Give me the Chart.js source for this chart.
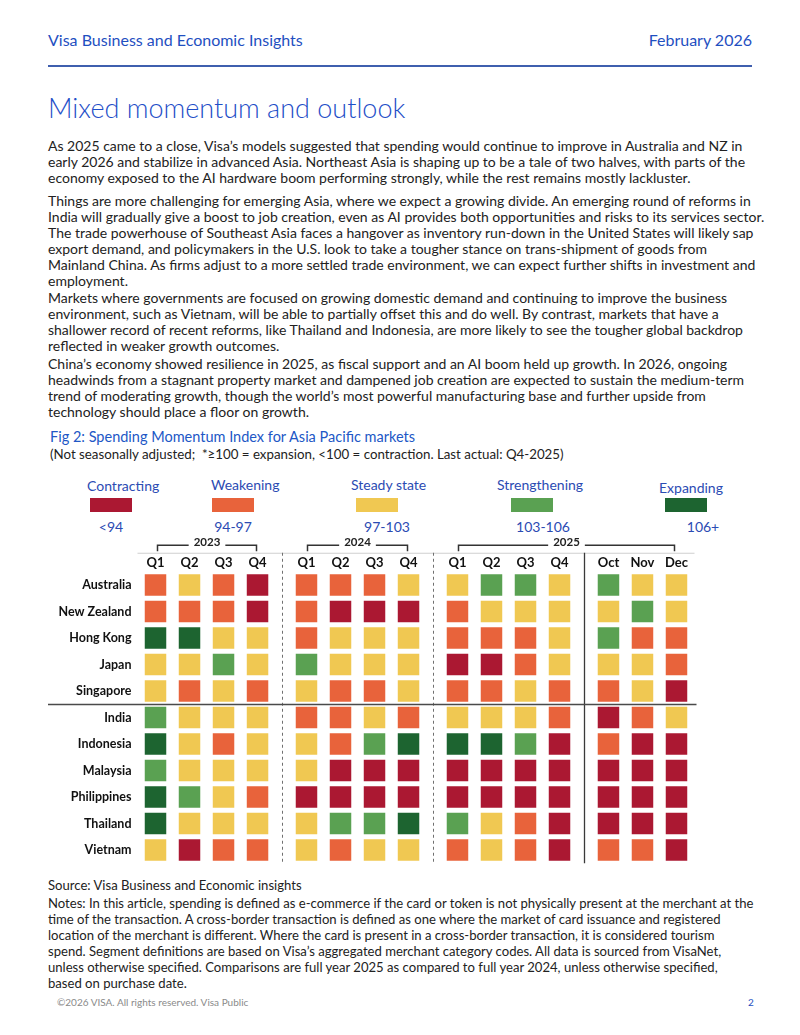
<!DOCTYPE html>
<html><head><meta charset="utf-8">
<script src="https://cdn.jsdelivr.net/npm/chart.js@4"></script>
<style>
body{margin:0;background:#fff;}
#page{position:relative;width:800px;height:1035px;overflow:hidden;font-family:Lato,"Open Sans",sans-serif;color:#222;}
.a{position:absolute;white-space:nowrap;}
.hdr{font-size:16px;line-height:20px;color:#1f4fc1;top:30px;}
.title{left:48px;top:91px;font-size:27px;line-height:34px;color:#1f4fc8;font-weight:300;}
.p{left:48px;line-height:16px;color:#222;}
.legend-lbl{font-size:14px;line-height:18px;color:#2b4bb3;}
.legend-rng{font-size:14px;line-height:18px;color:#2b4bb3;transform:translateX(-50%);}
.sw{position:absolute;width:42px;height:14px;top:498px;}
#chartBox{position:absolute;left:0;top:520px;width:800px;height:360px;}
</style></head>
<body><div id="page">
<div class="a hdr" style="left:48px">Visa Business and Economic Insights</div>
<div class="a hdr" style="right:48px">February 2026</div>
<div class="a" style="left:48px;top:65px;width:704px;height:2px;background:#3f5fae"></div>
<div class="a title">Mixed momentum and outlook</div>

<div id="body"></div>

<div class="a" style="left:50px;top:428px;font-size:14.5px;line-height:18px;color:#2157c6">Fig 2: Spending Momentum Index for Asia Pacific markets</div>
<div class="a" style="left:50px;top:446px;font-size:13.3px;line-height:16px;color:#222">(Not seasonally adjusted;&nbsp; *≥100 = expansion, &lt;100 = contraction. Last actual: Q4-2025)</div>

<div id="legend"></div>
<div id="chartBox"><canvas id="c"></canvas></div>

<div class="a" style="left:57px;top:995px;font-size:10px;line-height:14px;color:#8a8a8a">©2026 VISA. All rights reserved. Visa Public</div>
<div class="a" style="left:748px;top:995px;font-size:10px;line-height:14px;color:#1f4fc1">2</div>
</div>
<script>
// ---------- data ----------
const MARKETS = ['Australia','New Zealand','Hong Kong','Japan','Singapore','India','Indonesia','Malaysia','Philippines','Thailand','Vietnam'];
const PERIODS = ['Q1','Q2','Q3','Q4','Q1','Q2','Q3','Q4','Q1','Q2','Q3','Q4','Oct','Nov','Dec'];
const PERIOD_GROUP = [0,0,0,0,1,1,1,1,2,2,2,2,3,3,3];
const YEARS = ['2023','2024','2025'];
const YEAR_FIRST = [0,4,8];
const YEAR_LAST = [3,7,14];
const LEVEL_NAMES = ['Contracting','Weakening','Steady state','Strengthening','Expanding'];
const LEVEL_RANGES = ['<94','94-97','97-103','103-106','106+'];
const LEVEL_COLORS = ['#AB1832','#E8633B','#F0C852','#5AA152','#1D6430'];
// 1 = contracting ... 5 = expanding
const AUSTRALIA   = [2,3,2,1, 2,2,2,3, 3,4,4,3, 4,3,3];
const NEW_ZEALAND = [2,2,2,1, 2,1,1,1, 2,3,3,3, 3,4,3];
const HONG_KONG   = [5,5,3,3, 2,3,3,3, 2,2,2,3, 4,2,2];
const JAPAN       = [3,3,4,3, 4,3,3,3, 1,1,2,3, 3,3,2];
const SINGAPORE   = [3,2,3,2, 3,2,2,3, 2,2,3,2, 2,3,1];
const INDIA       = [4,3,3,3, 2,2,3,2, 3,3,3,2, 1,2,3];
const INDONESIA   = [5,3,2,3, 3,2,4,5, 5,5,4,1, 2,1,1];
const MALAYSIA    = [4,3,3,3, 3,1,1,1, 1,1,1,1, 1,1,1];
const PHILIPPINES = [5,4,3,2, 1,1,1,1, 1,1,1,1, 1,1,1];
const THAILAND    = [5,3,3,3, 3,4,4,5, 4,3,2,1, 1,1,1];
const VIETNAM     = [3,1,2,2, 3,2,3,3, 2,3,2,1, 2,2,1];
const SERIES = [AUSTRALIA,NEW_ZEALAND,HONG_KONG,JAPAN,SINGAPORE,INDIA,INDONESIA,MALAYSIA,PHILIPPINES,THAILAND,VIETNAM];

// ---------- text ----------
const PARAS = [
 [138,14,["As 2025 came to a close, Visa’s models suggested that spending would continue to improve in Australia and NZ in",
  "early 2026 and stabilize in advanced Asia. Northeast Asia is shaping up to be a tale of two halves, with parts of the",
  "economy exposed to the AI hardware boom performing strongly, while the rest remains mostly lackluster."]],
 [193,14,["Things are more challenging for emerging Asia, where we expect a growing divide. An emerging round of reforms in",
  "India will gradually give a boost to job creation, even as AI provides both opportunities and risks to its services sector.",
  "The trade powerhouse of Southeast Asia faces a hangover as inventory run-down in the United States will likely sap",
  "export demand, and policymakers in the U.S. look to take a tougher stance on trans-shipment of goods from",
  "Mainland China. As firms adjust to a more settled trade environment, we can expect further shifts in investment and",
  "employment."]],
 [290,14,["Markets where governments are focused on growing domestic demand and continuing to improve the business",
  "environment, such as Vietnam, will be able to partially offset this and do well. By contrast, markets that have a",
  "shallower record of recent reforms, like Thailand and Indonesia, are more likely to see the tougher global backdrop",
  "reflected in weaker growth outcomes."]],
 [356,14,["China’s economy showed resilience in 2025, as fiscal support and an AI boom held up growth. In 2026, ongoing",
  "headwinds from a stagnant property market and dampened job creation are expected to sustain the medium-term",
  "trend of moderating growth, though the world’s most powerful manufacturing base and further upside from",
  "technology should place a floor on growth."]],
 [877,13.1,["Source: Visa Business and Economic insights"]],
 [895,13.1,["Notes: In this article, spending is defined as e-commerce if the card or token is not physically present at the merchant at the",
  "time of the transaction. A cross-border transaction is defined as one where the market of card issuance and registered",
  "location of the merchant is different. Where the card is present in a cross-border transaction, it is considered tourism",
  "spend. Segment definitions are based on Visa’s aggregated merchant category codes. All data is sourced from VisaNet,",
  "unless otherwise specified. Comparisons are full year 2025 as compared to full year 2024, unless otherwise specified,",
  "based on purchase date."]]
];
const bodyEl = document.getElementById('body');
PARAS.forEach(([top, fs, lines]) => {
  lines.forEach((t, i) => {
    const d = document.createElement('div');
    d.className = 'a p';
    d.style.top = (top + i * 16) + 'px';
    d.style.fontSize = fs + 'px';
    d.textContent = t;
    bodyEl.appendChild(d);
  });
});

// ---------- legend ----------
const LEG_LABEL_X = [87,211,351,497,659];
const LEG_LABEL_Y = [477,476,476,476,479];
const LEG_SW_X = [90,212,356,511,665];
const LEG_RNG_X = [111,233,387,543,703];
const legEl = document.getElementById('legend');
LEVEL_NAMES.forEach((n, i) => {
  const l = document.createElement('div');
  l.className = 'a legend-lbl'; l.style.left = LEG_LABEL_X[i] + 'px'; l.style.top = LEG_LABEL_Y[i] + 'px';
  l.textContent = n; legEl.appendChild(l);
  const s = document.createElement('div');
  s.className = 'sw'; s.style.left = LEG_SW_X[i] + 'px'; s.style.background = LEVEL_COLORS[i];
  legEl.appendChild(s);
  const r = document.createElement('div');
  r.className = 'a legend-rng'; r.style.left = LEG_RNG_X[i] + 'px'; r.style.top = '518px';
  r.textContent = LEVEL_RANGES[i]; legEl.appendChild(r);
});

// ---------- chart ----------
const GAP = 0.44;
const xPos = i => i + PERIOD_GROUP[i] * GAP;
const points = [];
SERIES.forEach((row, r) => row.forEach((lv, i) => points.push({x: xPos(i), y: r, level: lv})));

const FONT = '"Lato", "Open Sans", sans-serif';
const decor = {
  id: 'decor',
  afterDraw(chart) {
    const {ctx, chartArea: ca, scales: {x: xs, y: ys}} = chart;
    const ruleY = ca.top - 19;
    ctx.save();
    // header rule
    ctx.strokeStyle = '#cfcfcf'; ctx.lineWidth = 1;
    ctx.beginPath(); ctx.moveTo(ca.left - 1, ruleY + 0.5); ctx.lineTo(ca.right + 1, ruleY + 0.5); ctx.stroke();
    // group separators
    for (let g = 0; g < 3; g++) {
      const lastIdx = PERIOD_GROUP.lastIndexOf(g);
      const px = Math.round((xs.getPixelForValue(xPos(lastIdx)) + xs.getPixelForValue(xPos(lastIdx + 1))) / 2) + 0.5;
      ctx.beginPath();
      if (g < 2) { ctx.setLineDash([3, 3]); ctx.strokeStyle = '#707070'; ctx.lineWidth = 1; }
      else { ctx.setLineDash([]); ctx.strokeStyle = '#3a3a3a'; ctx.lineWidth = 1.3; }
      ctx.moveTo(px, ruleY); ctx.lineTo(px, ca.bottom);
      ctx.stroke();
    }
    ctx.setLineDash([]);
    // advanced / emerging divider
    const dy = Math.round(ys.getPixelForValue(4.5)) + 0.5;
    ctx.strokeStyle = '#4a4a4a'; ctx.lineWidth = 1.6;
    ctx.beginPath(); ctx.moveTo(48, dy); ctx.lineTo(ca.right + 3, dy); ctx.stroke();
    // year brackets
    ctx.font = 'bold 11.5px ' + FONT;
    ctx.textAlign = 'center'; ctx.textBaseline = 'middle';
    YEARS.forEach((yr, k) => {
      const x1 = Math.round(xs.getPixelForValue(xPos(YEAR_FIRST[k]))) + 1.5;
      const x2 = Math.round(xs.getPixelForValue(xPos(YEAR_LAST[k]))) - 1.5;
      const by = ruleY - 7.5;
      const mid = (x1 + x2) / 2;
      const half = ctx.measureText(yr).width / 2 + 5;
      ctx.strokeStyle = '#333'; ctx.lineWidth = 1.5;
      ctx.beginPath();
      ctx.moveTo(x1, by + 6); ctx.lineTo(x1, by); ctx.lineTo(mid - half, by);
      ctx.moveTo(mid + half, by); ctx.lineTo(x2, by); ctx.lineTo(x2, by + 6);
      ctx.stroke();
      ctx.fillStyle = '#222';
      ctx.fillText(yr, mid, by - 2.5);
    });
    ctx.restore();
  }
};

new Chart(document.getElementById('c'), {
  type: 'scatter',
  data: { datasets: [{
    data: points,
    pointStyle: 'rect',
    pointRadius: 15.2,
    pointHoverRadius: 15.2,
    borderWidth: 0,
    backgroundColor: c => LEVEL_COLORS[(c.raw ? c.raw.level : 3) - 1],
    borderColor: c => LEVEL_COLORS[(c.raw ? c.raw.level : 3) - 1]
  }]},
  options: {
    responsive: true, maintainAspectRatio: false, animation: false,
    events: [],
    layout: { padding: { left: 40, right: 106.5, top: 21.75, bottom: 16.75 } },
    plugins: { legend: { display: false }, tooltip: { enabled: false } },
    scales: {
      x: {
        type: 'linear', position: 'top', min: -0.5, max: xPos(PERIODS.length - 1) + 0.5,
        afterBuildTicks: a => { a.ticks = PERIODS.map((_, i) => ({ value: xPos(i) })); },
        afterFit: s => { s.height = 30; },
        ticks: { autoSkip: false, maxRotation: 0, padding: 1, color: '#111',
          font: { family: FONT, size: 13, weight: 'bold' },
          callback: (v, i) => PERIODS[i] },
        grid: { display: false, drawTicks: false }, border: { display: false }
      },
      y: {
        type: 'linear', reverse: true, min: -0.5, max: MARKETS.length - 0.5,
        afterBuildTicks: a => { a.ticks = MARKETS.map((_, i) => ({ value: i })); },
        afterFit: s => { s.width = 98.5; },
        ticks: { autoSkip: false, padding: 7, color: '#111',
          font: { family: FONT, size: 12.5, weight: 'bold' },
          callback: (v, i) => MARKETS[i] },
        grid: { display: false, drawTicks: false }, border: { display: false }
      }
    }
  },
  plugins: [decor]
});
</script>
</body></html>
